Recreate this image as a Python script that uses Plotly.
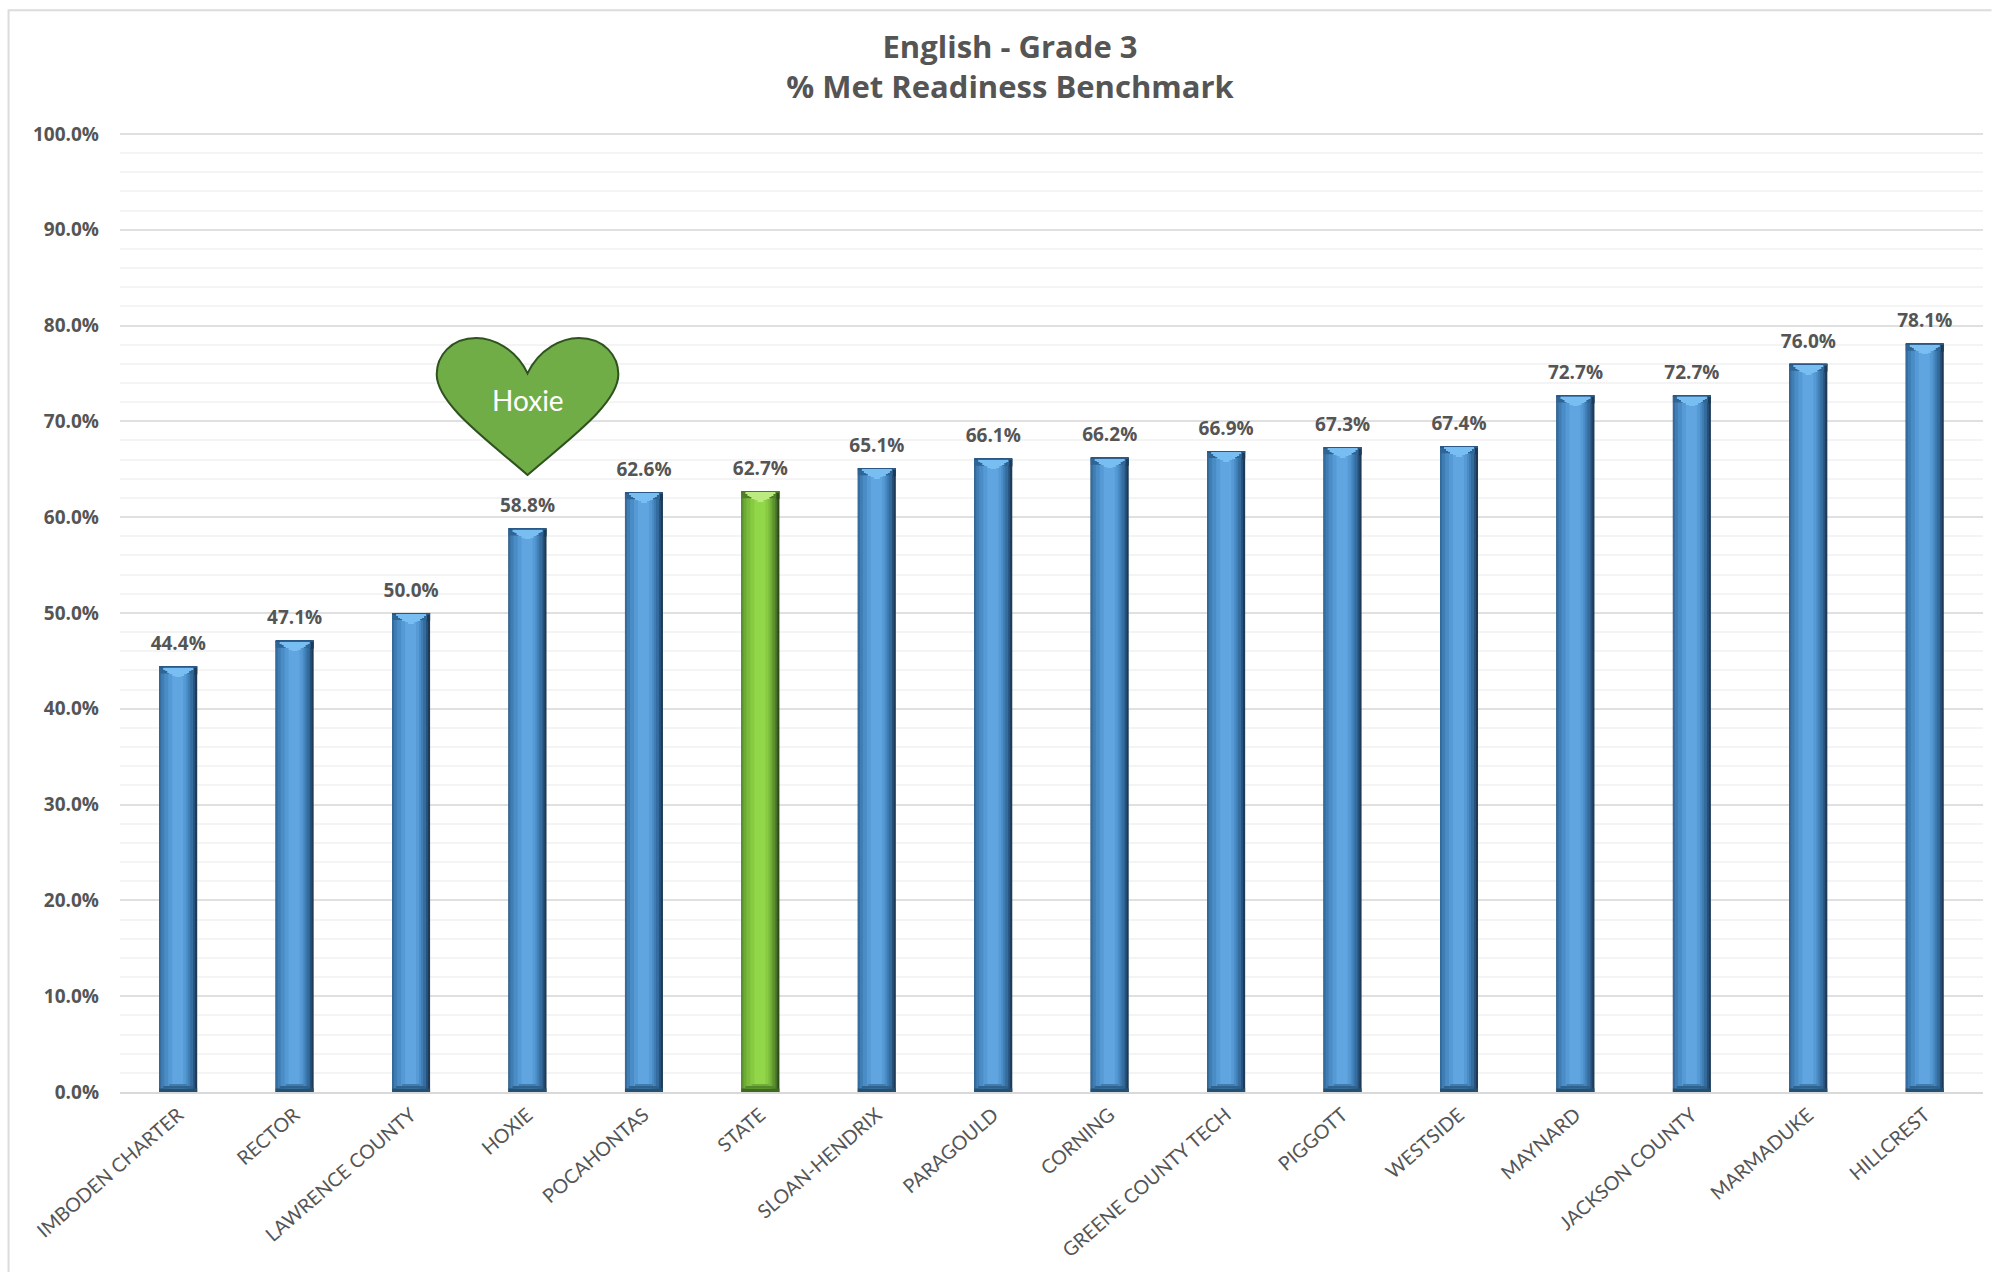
import plotly.graph_objects as go

categories = ["IMBODEN CHARTER", "RECTOR", "LAWRENCE COUNTY", "HOXIE", "POCAHONTAS", "STATE",
              "SLOAN-HENDRIX", "PARAGOULD", "CORNING", "GREENE COUNTY TECH", "PIGGOTT", "WESTSIDE",
              "MAYNARD", "JACKSON COUNTY", "MARMADUKE", "HILLCREST"]
values = [44.4, 47.1, 50.0, 58.8, 62.6, 62.7, 65.1, 66.1, 66.2, 66.9, 67.3, 67.4, 72.7, 72.7, 76.0, 78.1]
STATE = "STATE"
HIGHLIGHT = "HOXIE"

W, H = 1992, 1272
YTOP = 100.3
L, R, T, B = 119.5, 1983.5, 130.8, 1091.7
TXT = "#555555"
BOLD = "Open Sans"
PX_X = 1 / 116.5        # one pixel in category units
PX_Y = YTOP / (B - T)   # one pixel in percent units

# body layers: left px, right px, blue colour, green colour
layers = [(-19, 19, "#1d3a56", "#2f4d18"),
          (-19, 17, "#27507a", "#44702a"),
          (-19, 15, "#356c9e", "#5c9130"),
          (-17, 12, "#3f7db4", "#6eaa36"),
          (-14, 10, "#4a8cc5", "#7cbc3c"),
          (-10, 8, "#559ad4", "#88cb42"),
          (-6, 5, "#60a5e0", "#92d649")]
xs = list(range(len(categories)))
n = len(xs)


def pick(blue, green):
    return [green if c == STATE else blue for c in categories]


def band(left, right, bottoms, height, blue, green):
    fig.add_trace(go.Bar(
        x=xs, y=[height] * n, base=bottoms,
        width=(right - left) * PX_X, offset=left * PX_X,
        marker=dict(color=pick(blue, green), line_width=0),
        hoverinfo="skip", showlegend=False))


fig = go.Figure()
for left, right, cb, cg in layers:
    fig.add_trace(go.Bar(
        x=xs, y=values, width=(right - left) * PX_X, offset=left * PX_X,
        marker=dict(color=pick(cb, cg), line_width=0),
        hoverinfo="skip", showlegend=False))

# foot of each bevelled column
band(-19, 19, [0] * n, 3.5 * PX_Y, "#26506f", "#3d6a1f")
band(-15, 15, [3.5 * PX_Y] * n, 2.5 * PX_Y, "#2f628e", "#55882a")
band(-9, 9, [6 * PX_Y] * n, 2 * PX_Y, "#3f7cb0", "#6fae36")

# head of each bevelled column: dark band, then a light notch tapering down
band(-19, 19, [v - 7 * PX_Y for v in values], 7 * PX_Y, "#2f6595", "#4f8028")
band(16, 19, [v - 8 * PX_Y for v in values], 8 * PX_Y, "#1d3a56", "#2f4d18")
band(-19, 19, [v - 1.2 * PX_Y for v in values], 1.2 * PX_Y, "#2a5885", "#4a7a26")
for depth, half in [(1.2, 15), (2.7, 13), (4.2, 11), (5.7, 9), (7.2, 6), (8.7, 3)]:
    band(-half, half, [v - (depth + 1.5) * PX_Y for v in values], 1.5 * PX_Y, "#78bef2", "#bbea80")

# value labels
fig.add_trace(go.Scatter(
    x=xs, y=[v + 21 * PX_Y for v in values], mode="text",
    text=[f"{v:.1f}%" for v in values], textposition="middle center",
    textfont=dict(family=BOLD, size=19, color=TXT, weight="bold"),
    cliponaxis=False, hoverinfo="skip", showlegend=False))

# Hoxie heart, in data units
hx = categories.index(HIGHLIGHT)
heart = (f"M {hx} 75.0 "
         f"C {hx-0.10} 77.6, {hx-0.30} 78.7, {hx-0.44} 78.7 "
         f"C {hx-0.66} 78.7, {hx-0.78} 76.8, {hx-0.78} 74.9 "
         f"C {hx-0.78} 71.8, {hx-0.34} 68.0, {hx} 64.4 "
         f"C {hx+0.34} 68.0, {hx+0.78} 71.8, {hx+0.78} 74.9 "
         f"C {hx+0.78} 76.8, {hx+0.66} 78.7, {hx+0.44} 78.7 "
         f"C {hx+0.30} 78.7, {hx+0.10} 77.6, {hx} 75.0 Z")
fig.add_shape(type="path", path=heart, xref="x", yref="y", layer="above",
              fillcolor="#70ad47", line=dict(color="#2f5220", width=2))
fig.add_annotation(x=hx, y=72.2, xref="x", yref="y", text="Hoxie", showarrow=False,
                   font=dict(family="Lato", size=28, color="white"))

# outer frame of the chart
fig.add_shape(type="path", xref="paper", yref="paper",
              path=f"M {(8-L)/(R-L)} {(B-1272)/(B-T)} L {(8-L)/(R-L)} {(B-10)/(B-T)} L {(1992-L)/(R-L)} {(B-10)/(B-T)}",
              line=dict(color="#dcdcdc", width=2), layer="below")

fig.update_layout(
    width=W, height=H, autosize=False,
    margin=dict(l=L, r=W - R, t=T, b=H - B, pad=0),
    paper_bgcolor="white", plot_bgcolor="white", barmode="overlay",
    title=dict(text="English - Grade 3<br>% Met Readiness Benchmark", x=1010 / W,
               xanchor="center", y=1 - 58 / H, yanchor="middle",
               font=dict(family=BOLD, size=31, color=TXT, weight="bold")),
    xaxis=dict(range=[-0.5, 15.5], tickmode="array", tickvals=xs, ticktext=categories, tickangle=-41,
               showgrid=False, ticks="", showline=True, linecolor="#d9d9d9", linewidth=2, zeroline=False,
               ticklabelstandoff=2, automargin=False,
               tickfont=dict(family="Lato", size=19.5, color=TXT)),
    yaxis=dict(range=[0, YTOP], tick0=0, dtick=10, tickformat=".1f", ticksuffix="%",
               showgrid=True, gridcolor="#e0e0e0", gridwidth=2, zeroline=False, ticks="", showline=False,
               ticklabelstandoff=20, automargin=False,
               tickfont=dict(family=BOLD, size=19, color=TXT, weight="bold"),
               minor=dict(dtick=2, showgrid=True, gridcolor="#f4f4f4", gridwidth=2, ticks="")),
)
fig.write_html("out.html", config={"displayModeBar": False},
               post_script="document.body.style.margin='0';document.documentElement.style.overflow='hidden';")
